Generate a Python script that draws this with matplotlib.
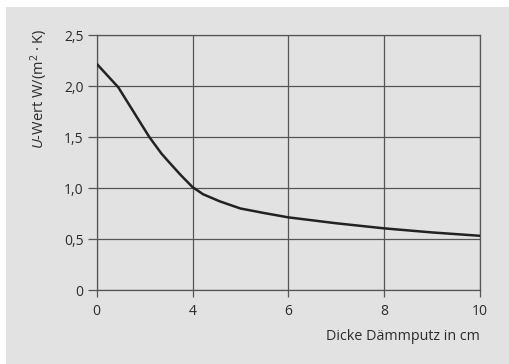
import numpy as np
import matplotlib
matplotlib.use("Agg")
import matplotlib.pyplot as plt
from matplotlib.patches import Rectangle

# data (x in cm, U-value in W/(m²·K))
dicke_cm = [0, 0.9, 2.2, 2.7, 3.0, 3.5, 4.0, 4.22, 4.57, 5.0, 5.5, 6.0, 7.0, 8.0, 9.0, 10.0]
u_wert = [2.22, 1.99, 1.50, 1.34, 1.26, 1.13, 1.01, 0.94, 0.87, 0.80, 0.755, 0.713, 0.655, 0.605, 0.565, 0.532]
x_ticks = [0, 4, 6, 8, 10]
y_ticks = [0, 0.5, 1.0, 1.5, 2.0, 2.5]
y_labels = ["0", "0,5", "1,0", "1,5", "2,0", "2,5"]

plt.rcParams['font.family'] = ['Open Sans', 'DejaVu Sans']
plt.rcParams['mathtext.fontset'] = 'custom'
plt.rcParams['mathtext.rm'] = 'Open Sans'
plt.rcParams['mathtext.it'] = 'Open Sans:italic'

txt = '#2b2b2b'
grid = '#555555'

fig = plt.figure(figsize=(5.10, 3.64), dpi=100)
fig.patch.set_facecolor('white')
fig.patches.append(Rectangle((6/510, 0), 1, 1 - 7/364, transform=fig.transFigure,
                             facecolor='#e2e2e2', edgecolor='none', zorder=-10))

ax = fig.add_axes([96.7/510, 1 - 290/364, (480 - 96.7)/510, (290 - 35.3)/364])
ax.set_facecolor('none')

# the x axis is spaced evenly per tick, not linear in cm
pos_ticks = np.arange(len(x_ticks))
x_pos = np.interp(dicke_cm, x_ticks, pos_ticks)

ax.plot(x_pos, u_wert, color='#222222', lw=1.8, solid_capstyle='butt', zorder=3)

ax.set_xlim(0, pos_ticks[-1])
ax.set_ylim(0, 2.5)
ax.set_xticks(pos_ticks)
ax.set_xticklabels([str(t) for t in x_ticks])
ax.set_yticks(y_ticks)
ax.set_yticklabels(y_labels)

ax.grid(True, color=grid, lw=0.9)
for s in ax.spines.values():
    s.set_color(grid)
    s.set_linewidth(0.9)
ax.tick_params(axis='y', length=6.5, width=0.9, color=grid, labelcolor=txt, labelsize=10, pad=3)
ax.tick_params(axis='x', length=5, width=0.9, color=grid, labelcolor=txt, labelsize=10, pad=5)

fig.text(480/510, 1 - 337/364, "Dicke Dämmputz in cm", ha='right', va='center',
         fontsize=10.3, color=txt)
fig.text(39/510, 1 - 89/364, r"$\mathit{U}$-Wert W/(m$^2$ · K)", rotation=90,
         ha='center', va='center', fontsize=10.5, color=txt)

fig.savefig('out.png', dpi=100)
